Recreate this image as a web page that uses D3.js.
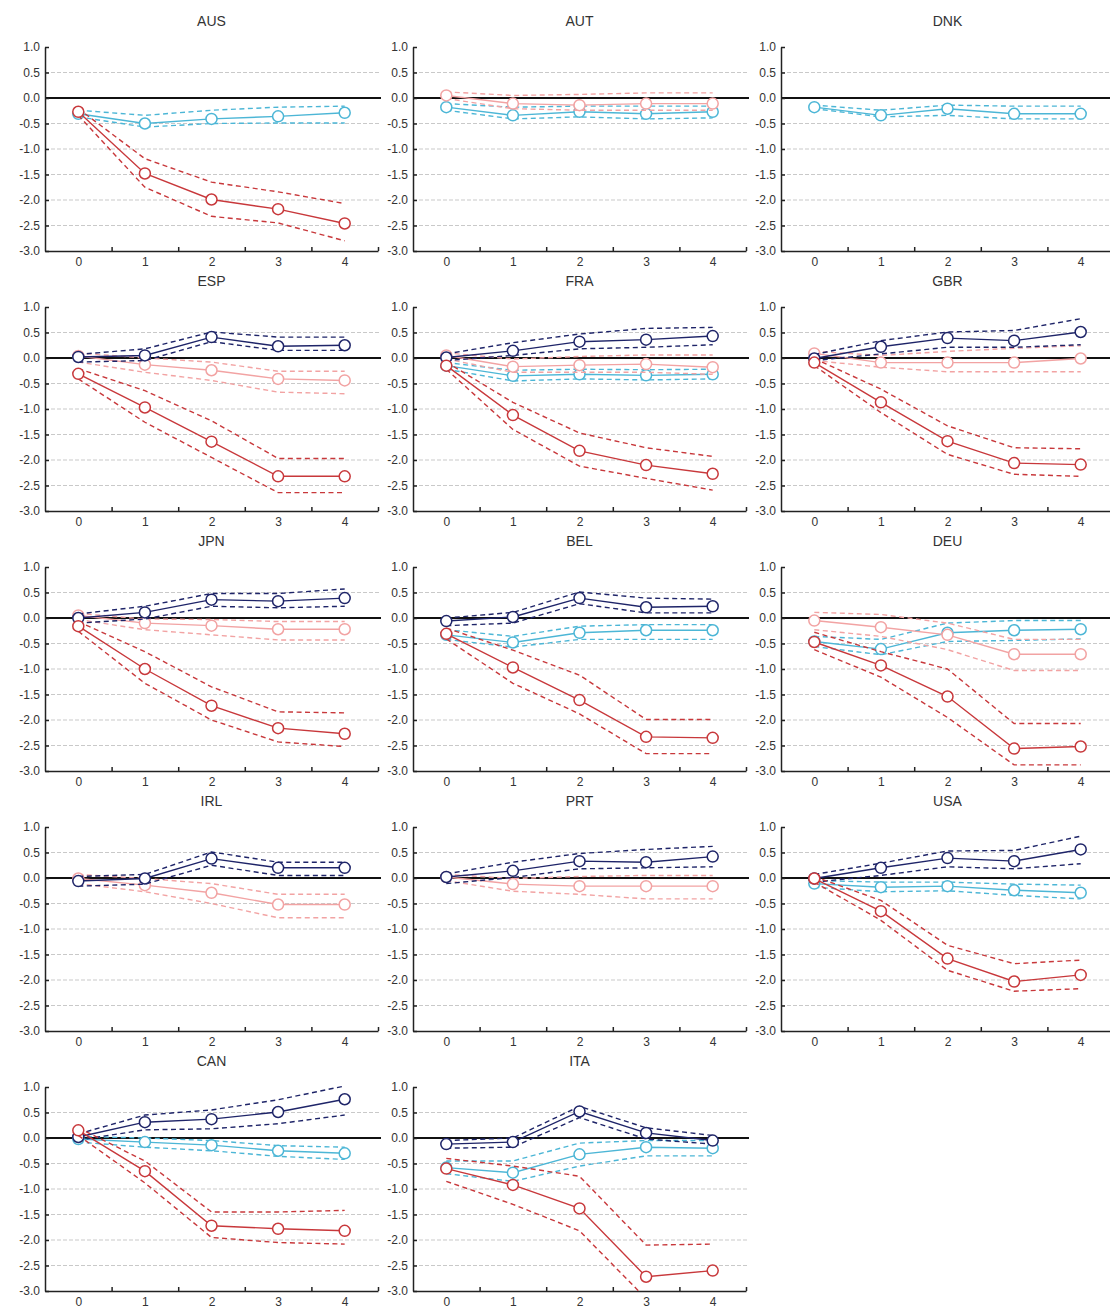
<!DOCTYPE html>
<html>
<head>
<meta charset="utf-8">
<script src="https://cdn.jsdelivr.net/npm/d3@7"></script>
<style>
  html, body { margin: 0; padding: 0; background: #fff; }
  svg text { font-family: "Liberation Sans", Arial, sans-serif; fill: #333; }
</style>
</head>
<body>
<script>
// ---------------- DATA ----------------
// each series: [mid, lower band, upper band], horizons 0..4
const xTicks = [0, 1, 2, 3, 4];
const xMinorTicks = [0.5, 1.5, 2.5, 3.5, 4.5];
const yTicks = [1.0, 0.5, 0.0, -0.5, -1.0, -1.5, -2.0, -2.5, -3.0];
const gridValues = [0.5, -0.5, -1.0, -1.5, -2.0, -2.5];
const countries = ["AUS","AUT","DNK","ESP","FRA","GBR","JPN","BEL","DEU","IRL","PRT","USA","CAN","ITA"];
const seriesOrder = ["cyan", "pink", "navy", "red"];
const seriesColors = ["#4cb6d6", "#f2a3a3", "#1e2468", "#c8383b"];

const AUS_red  = [[-0.27,-1.48,-1.99,-2.18,-2.46],[-0.34,-1.75,-2.32,-2.45,-2.80],[-0.21,-1.19,-1.65,-1.84,-2.07]];
const AUS_cyan = [[-0.31,-0.50,-0.41,-0.36,-0.29],[-0.37,-0.57,-0.50,-0.49,-0.49],[-0.24,-0.34,-0.24,-0.18,-0.16]];

const AUT_pink = [[0.05,-0.11,-0.14,-0.11,-0.11],[-0.01,-0.21,-0.24,-0.24,-0.24],[0.12,0.05,0.07,0.10,0.10]];
const AUT_cyan = [[-0.18,-0.34,-0.27,-0.31,-0.27],[-0.24,-0.41,-0.37,-0.41,-0.39],[-0.11,-0.18,-0.16,-0.16,-0.16]];

const DNK_cyan = [[-0.18,-0.34,-0.21,-0.31,-0.31],[-0.21,-0.37,-0.34,-0.41,-0.41],[-0.14,-0.24,-0.14,-0.16,-0.16]];

const ESP_navy = [[0.02,0.05,0.41,0.23,0.25],[-0.08,-0.05,0.32,0.15,0.15],[0.07,0.18,0.51,0.41,0.41]];
const ESP_pink = [[0.04,-0.13,-0.24,-0.41,-0.44],[-0.08,-0.28,-0.44,-0.67,-0.70],[0.10,0.00,-0.08,-0.26,-0.26]];
const ESP_red  = [[-0.31,-0.97,-1.64,-2.32,-2.32],[-0.41,-1.26,-1.95,-2.64,-2.64],[-0.21,-0.64,-1.23,-1.97,-1.97]];

const FRA_navy = [[0.01,0.14,0.32,0.36,0.43],[-0.05,0.05,0.18,0.21,0.26],[0.08,0.30,0.47,0.58,0.60]];
const FRA_pink = [[0.05,-0.17,-0.14,-0.12,-0.18],[-0.02,-0.28,-0.28,-0.28,-0.32],[0.10,-0.02,0.03,0.06,0.06]];
const FRA_cyan = [[-0.15,-0.35,-0.32,-0.34,-0.32],[-0.22,-0.45,-0.41,-0.43,-0.41],[-0.09,-0.24,-0.22,-0.23,-0.22]];
const FRA_red  = [[-0.15,-1.12,-1.82,-2.10,-2.27],[-0.22,-1.40,-2.12,-2.36,-2.59],[-0.08,-0.87,-1.47,-1.76,-1.93]];

const GBR_navy = [[-0.01,0.22,0.39,0.34,0.51],[-0.05,0.08,0.21,0.21,0.26],[0.07,0.34,0.51,0.54,0.77]];
const GBR_pink = [[0.09,-0.09,-0.09,-0.09,-0.01],[-0.05,-0.18,-0.27,-0.27,-0.27],[0.13,0.05,0.13,0.19,0.24]];
const GBR_red  = [[-0.09,-0.87,-1.63,-2.06,-2.09],[-0.15,-1.07,-1.89,-2.28,-2.32],[-0.01,-0.61,-1.33,-1.76,-1.78]];

const JPN_navy = [[0.00,0.11,0.36,0.33,0.39],[-0.10,-0.02,0.23,0.20,0.23],[0.08,0.23,0.48,0.48,0.57]];
const JPN_pink = [[0.05,-0.10,-0.15,-0.22,-0.22],[-0.03,-0.23,-0.33,-0.43,-0.43],[0.09,-0.02,-0.03,-0.07,-0.07]];
const JPN_red  = [[-0.16,-1.00,-1.72,-2.16,-2.27],[-0.26,-1.28,-2.00,-2.43,-2.52],[-0.07,-0.66,-1.35,-1.84,-1.86]];

const BEL_navy = [[-0.06,0.02,0.39,0.21,0.23],[-0.15,-0.10,0.28,0.10,0.10],[0.00,0.11,0.51,0.39,0.37]];
const BEL_cyan = [[-0.33,-0.48,-0.29,-0.24,-0.24],[-0.42,-0.57,-0.42,-0.42,-0.42],[-0.23,-0.36,-0.16,-0.13,-0.13]];
const BEL_red  = [[-0.31,-0.97,-1.61,-2.33,-2.35],[-0.41,-1.28,-1.88,-2.66,-2.66],[-0.20,-0.63,-1.12,-1.99,-1.99]];

const DEU_pink = [[-0.05,-0.18,-0.33,-0.71,-0.71],[-0.23,-0.36,-0.62,-1.03,-1.03],[0.11,0.07,-0.10,-0.42,-0.42]];
const DEU_cyan = [[-0.46,-0.61,-0.29,-0.24,-0.22],[-0.56,-0.72,-0.46,-0.44,-0.41],[-0.36,-0.42,-0.10,-0.05,-0.05]];
const DEU_red  = [[-0.47,-0.93,-1.54,-2.56,-2.52],[-0.62,-1.16,-1.95,-2.88,-2.88],[-0.28,-0.66,-1.00,-2.07,-2.07]];

const IRL_navy = [[-0.06,-0.01,0.38,0.20,0.20],[-0.16,-0.12,0.25,0.05,0.05],[0.03,0.07,0.51,0.31,0.31]];
const IRL_pink = [[-0.01,-0.14,-0.29,-0.52,-0.52],[-0.11,-0.27,-0.50,-0.78,-0.78],[0.07,-0.01,-0.11,-0.32,-0.32]];

const PRT_navy = [[0.02,0.14,0.33,0.31,0.42],[-0.11,0.01,0.18,0.20,0.22],[0.08,0.31,0.48,0.56,0.62]];
const PRT_pink = [[0.02,-0.12,-0.16,-0.16,-0.16],[-0.05,-0.26,-0.32,-0.41,-0.41],[0.07,-0.01,0.03,0.05,0.05]];

const USA_navy = [[-0.01,0.20,0.39,0.33,0.56],[-0.08,0.05,0.22,0.18,0.28],[0.07,0.29,0.53,0.54,0.82]];
const USA_cyan = [[-0.11,-0.18,-0.16,-0.24,-0.29],[-0.18,-0.27,-0.25,-0.34,-0.41],[-0.05,-0.08,-0.08,-0.12,-0.14]];
const USA_red  = [[-0.01,-0.65,-1.58,-2.03,-1.90],[-0.08,-0.83,-1.81,-2.22,-2.17],[0.03,-0.44,-1.32,-1.68,-1.61]];

const CAN_navy = [[0.02,0.31,0.37,0.51,0.76],[-0.04,0.16,0.18,0.28,0.45],[0.08,0.45,0.55,0.75,1.02]];
const CAN_cyan = [[-0.02,-0.08,-0.14,-0.25,-0.30],[-0.08,-0.18,-0.25,-0.36,-0.42],[0.03,0.00,-0.05,-0.15,-0.18]];
const CAN_red  = [[0.15,-0.65,-1.72,-1.78,-1.82],[0.05,-0.88,-1.95,-2.05,-2.08],[0.20,-0.45,-1.45,-1.45,-1.42]];

const ITA_navy = [[-0.12,-0.08,0.52,0.10,-0.05],[-0.20,-0.18,0.40,-0.02,-0.12],[-0.05,0.00,0.62,0.20,0.05]];
const ITA_cyan = [[-0.58,-0.68,-0.32,-0.18,-0.20],[-0.70,-0.85,-0.55,-0.35,-0.35],[-0.45,-0.45,-0.10,-0.05,-0.05]];
const ITA_red  = [[-0.60,-0.92,-1.38,-2.72,-2.60],[-0.85,-1.30,-1.82,-3.15,-3.10],[-0.40,-0.55,-0.75,-2.10,-2.08]];

// table built from the arrays above
const panelSeries = {
  AUS: {red: AUS_red, cyan: AUS_cyan},
  AUT: {pink: AUT_pink, cyan: AUT_cyan},
  DNK: {cyan: DNK_cyan},
  ESP: {navy: ESP_navy, pink: ESP_pink, red: ESP_red},
  FRA: {navy: FRA_navy, pink: FRA_pink, cyan: FRA_cyan, red: FRA_red},
  GBR: {navy: GBR_navy, pink: GBR_pink, red: GBR_red},
  JPN: {navy: JPN_navy, pink: JPN_pink, red: JPN_red},
  BEL: {navy: BEL_navy, cyan: BEL_cyan, red: BEL_red},
  DEU: {pink: DEU_pink, cyan: DEU_cyan, red: DEU_red},
  IRL: {navy: IRL_navy, pink: IRL_pink},
  PRT: {navy: PRT_navy, pink: PRT_pink},
  USA: {navy: USA_navy, cyan: USA_cyan, red: USA_red},
  CAN: {navy: CAN_navy, cyan: CAN_cyan, red: CAN_red},
  ITA: {navy: ITA_navy, cyan: ITA_cyan, red: ITA_red}
};

// ---------------- LAYOUT ----------------
const W = 1110, H = 1309;
const pw = 333, ph = 204;
const colStep = 368, rowStep = 260;
const left0 = 45, top0 = 47;

const svg = d3.select("body").append("svg")
  .attr("width", W).attr("height", H)
  .attr("viewBox", `0 0 ${W} ${H}`);

const x = d3.scaleLinear().domain([-0.5, 4.5]).range([0, pw]);
const y = d3.scaleLinear().domain([-3, 1]).range([ph, 0]);
const color = d3.scaleOrdinal().domain(seriesOrder).range(seriesColors);
const line = d3.line().x((d, i) => x(xTicks[i])).y(d => y(d));

countries.forEach((name, idx) => {
  const col = idx % 3, row = Math.floor(idx / 3);
  const g = svg.append("g")
    .attr("transform", `translate(${left0 + colStep * col},${top0 + rowStep * row})`);

  const clipId = "clip" + idx;
  g.append("clipPath").attr("id", clipId)
    .append("rect").attr("x", -8).attr("y", -12).attr("width", pw + 16).attr("height", ph + 12);

  // grid
  g.selectAll("line.grid").data(gridValues).enter().append("line")
    .attr("class", "grid")
    .attr("x1", 0).attr("x2", pw + 3)
    .attr("y1", d => y(d)).attr("y2", d => y(d))
    .attr("stroke", "#c9c9c9").attr("stroke-width", 1)
    .attr("stroke-dasharray", "4,2");

  // zero line
  g.append("line")
    .attr("x1", 0).attr("x2", pw + 3)
    .attr("y1", y(0)).attr("y2", y(0))
    .attr("stroke", "#111").attr("stroke-width", 1.8);

  // title
  g.append("text")
    .attr("x", pw / 2).attr("y", -21)
    .attr("text-anchor", "middle")
    .style("font-size", "14px")
    .text(name);

  // y axis
  const yAxis = d3.axisLeft(y).tickValues(yTicks)
    .tickFormat(d => d.toFixed(1))
    .tickSizeInner(-4).tickSizeOuter(0).tickPadding(5);
  const ya = g.append("g").call(yAxis);
  ya.selectAll("text").style("font-size", "12px").attr("fill", "#333");
  ya.selectAll("path, line").attr("stroke", "#222").attr("stroke-width", 1.5);

  // x axis: minor ticks + labels
  const xMinor = d3.axisBottom(x).tickValues(xMinorTicks)
    .tickFormat("").tickSizeInner(-4).tickSizeOuter(0);
  const xm = g.append("g").attr("transform", `translate(0,${ph})`).call(xMinor);
  xm.selectAll("path, line").attr("stroke", "#222").attr("stroke-width", 1.5);

  const xLab = d3.axisBottom(x).tickValues(xTicks)
    .tickFormat(d3.format("d")).tickSize(0).tickPadding(6.5);
  const xl = g.append("g").attr("transform", `translate(0,${ph})`).call(xLab);
  xl.select("path").remove();
  xl.selectAll("text").style("font-size", "12px").attr("fill", "#333");

  // series
  const plot = g.append("g").attr("clip-path", `url(#${clipId})`);
  const ser = panelSeries[name];
  seriesOrder.forEach(key => {
    if (!ser[key]) return;
    const [mid, lo, hi] = ser[key];
    const c = color(key);
    [lo, hi].forEach(band => {
      plot.append("path").datum(band)
        .attr("d", line)
        .attr("fill", "none").attr("stroke", c)
        .attr("stroke-width", 1.4).attr("stroke-dasharray", "5,3.5");
    });
    plot.append("path").datum(mid)
      .attr("d", line)
      .attr("fill", "none").attr("stroke", c).attr("stroke-width", 1.4);
    plot.selectAll(null).data(mid).enter().append("circle")
      .attr("cx", (d, i) => x(xTicks[i])).attr("cy", d => y(d))
      .attr("r", 5.5)
      .attr("fill", "#fff").attr("stroke", c).attr("stroke-width", 1.5);
  });
});
</script>
</body>
</html>
